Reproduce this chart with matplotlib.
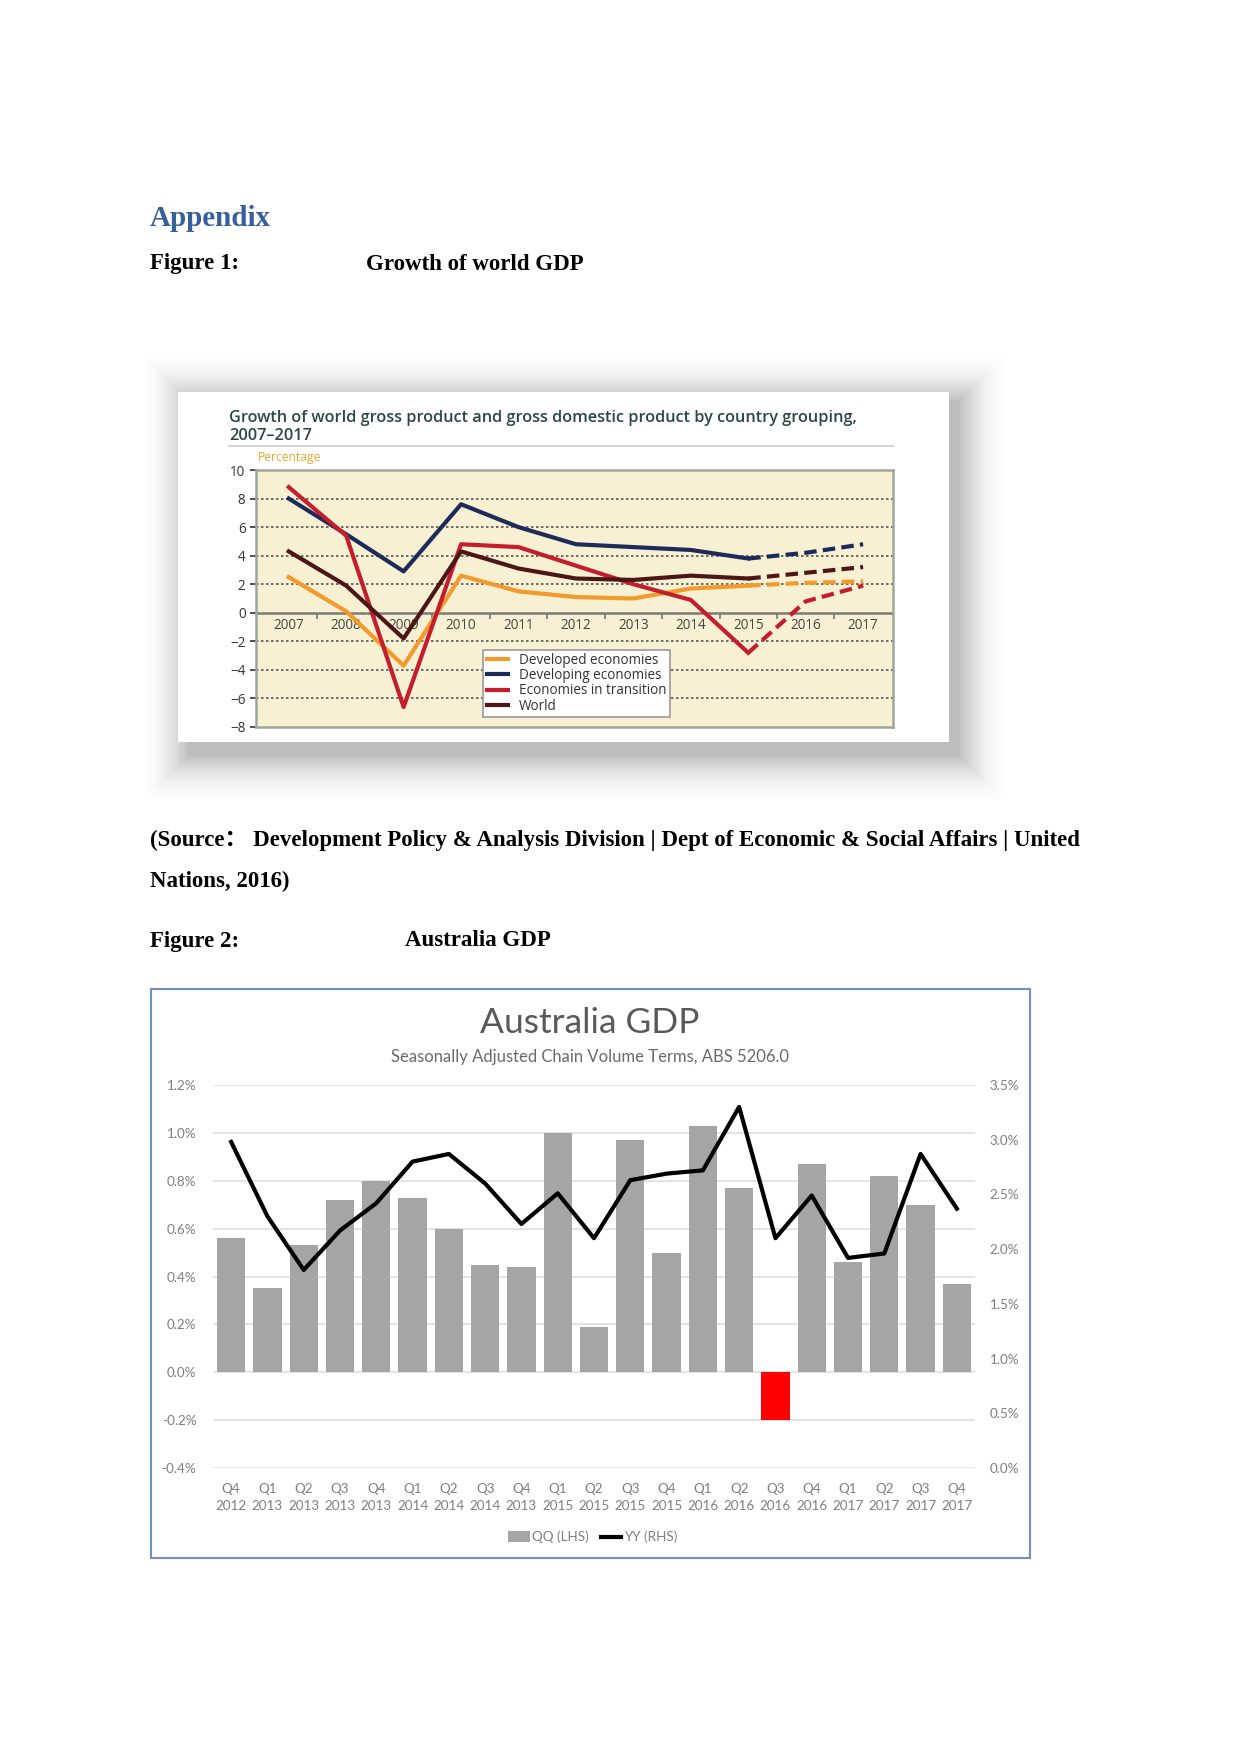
import numpy as np
import matplotlib
matplotlib.use("Agg")
import matplotlib.pyplot as plt
from matplotlib.patches import Rectangle, Patch
from matplotlib.lines import Line2D

# --- figure 1 data (growth of world gross product, %) ---
years = list(range(2007, 2018))
developed = [2.5, 0.1, -3.7, 2.6, 1.5, 1.1, 1.0, 1.7, 1.9, 2.1, 2.2]
developing = [8.0, 5.5, 2.9, 7.6, 6.0, 4.8, 4.6, 4.4, 3.8, 4.2, 4.8]
transition = [8.8, 5.4, -6.6, 4.8, 4.6, 3.3, 2.0, 0.9, -2.8, 0.8, 1.9]
world = [4.3, 1.9, -1.8, 4.3, 3.1, 2.4, 2.3, 2.6, 2.4, 2.8, 3.2]

# --- figure 2 data (Australia GDP) ---
quarters = ["Q4", "Q1", "Q2", "Q3", "Q4", "Q1", "Q2", "Q3", "Q4", "Q1", "Q2",
            "Q3", "Q4", "Q1", "Q2", "Q3", "Q4", "Q1", "Q2", "Q3", "Q4"]
q_years = ["2012", "2013", "2013", "2013", "2013", "2014", "2014", "2014", "2013",
           "2015", "2015", "2015", "2015", "2016", "2016", "2016", "2016",
           "2017", "2017", "2017", "2017"]
qq = [0.56, 0.35, 0.53, 0.72, 0.80, 0.73, 0.60, 0.45, 0.44, 1.00, 0.19,
      0.97, 0.50, 1.03, 0.77, -0.20, 0.87, 0.46, 0.82, 0.70, 0.37]
yy = [2.98, 2.30, 1.81, 2.17, 2.42, 2.80, 2.87, 2.60, 2.23, 2.51, 2.10,
      2.63, 2.69, 2.72, 3.30, 2.10, 2.49, 1.92, 1.96, 2.87, 2.37]

W, H = 1241, 1754


def fr(x0, y0, x1, y1):
    # pixel box (from top-left) -> figure fraction rect
    return [x0 / W, 1 - y1 / H, (x1 - x0) / W, (y1 - y0) / H]


def px(x, y):
    return x / W, 1 - y / H


def fig_rect(x0, y0, x1, y1, **kw):
    a, b = px(x0, y0)
    c, d = px(x1, y1)
    fig.patches.append(Rectangle((a, d), c - a, b - d, transform=fig.transFigure, **kw))


fig = plt.figure(figsize=(W / 150, H / 150), dpi=150)
fig.patch.set_facecolor("white")

serif = ["Liberation Serif", "Noto Sans CJK SC", "DejaVu Serif"]

# document text
fig.text(*px(150, 218), "Appendix", family=serif, weight="bold", fontsize=14,
         color="#36609a", va="center")
fig.text(*px(150, 264), "Figure 1:", family=serif, weight="bold", fontsize=11, va="center")
fig.text(*px(366, 264), "Growth of world GDP", family=serif, weight="bold", fontsize=11, va="center")
fig.text(*px(150, 840), "(Source\uff1a Development Policy & Analysis Division | Dept of Economic & Social Affairs | United",
         family=serif, weight="bold", fontsize=11, va="center")
fig.text(*px(150, 881), "Nations, 2016)", family=serif, weight="bold", fontsize=11, va="center")
fig.text(*px(150, 941), "Figure 2:", family=serif, weight="bold", fontsize=11, va="center")
fig.text(*px(405, 941), "Australia GDP", family=serif, weight="bold", fontsize=11, va="center")

# ---------------- figure 1 ----------------
# soft drop shadow (down-right) + white panel
n = 22
for i in range(n):
    g = 2.2 * i
    fig_rect(188 - g, 400 - g, 960 + g, 756 + g, facecolor="black", edgecolor="none",
             alpha=0.022 * (1 - i / n), zorder=-3)
fig_rect(178, 392, 949, 742, facecolor="white", edgecolor="none", zorder=-2)

f1 = ["Open Sans", "DejaVu Sans"]
fig.text(*px(229, 418), "Growth of world gross product and gross domestic product by country grouping,",
         family=f1, weight="semibold", fontsize=7.8, color="#2b4646", va="center")
fig.text(*px(229, 436), "2007\u20132017", family=f1, weight="semibold", fontsize=7.8,
         color="#2b4646", va="center")
fig.add_artist(Line2D([229 / W, 893 / W], [1 - 446 / H, 1 - 446 / H], color="#d5d5d5", lw=1))
fig.text(*px(258, 458), "Percentage", family=f1, fontsize=5.8, color="#e3a92c", va="center")

ax1 = fig.add_axes(fr(256, 470, 893, 727))
ax1.set_facecolor("#f8f0d2")
for s in ax1.spines.values():
    s.set_color("#9ea79c")
    s.set_linewidth(1.2)
ax1.set_xlim(2006.43, 2017.52)
ax1.set_ylim(-8, 10)
ax1.set_xticks([])
ax1.set_yticks(range(-8, 11, 2))
ax1.tick_params(axis="y", length=3, pad=2, labelsize=6.5, colors="#333333")
for lab in ax1.get_yticklabels():
    lab.set_family(f1)
for yv in range(-6, 9, 2):
    if yv != 0:
        ax1.axhline(yv, color="#555555", lw=0.8, dashes=(1.5, 1.5), zorder=1)
ax1.axhline(0, color="#7a7a7a", lw=1.2, zorder=1)
ax1.vlines(np.arange(2007.5, 2017, 1), -0.45, 0, color="#777777", lw=0.8, zorder=1)
for yr in years:
    ax1.text(yr, -0.35, str(yr), ha="center", va="top", fontsize=6.5,
             color="#444444", family=f1, zorder=2)

series = [("Developed economies", developed, "#f39a2c"),
          ("Developing economies", developing, "#1c2b5a"),
          ("Economies in transition", transition, "#c41e2e"),
          ("World", world, "#4d1616")]
handles = []
for name, vals, col in series:
    h, = ax1.plot(years[:9], vals[:9], color=col, lw=2, zorder=3, label=name)
    ax1.plot(years[8:], vals[8:], color=col, lw=2, ls=(0, (3, 1.5)), zorder=3)
    handles.append(h)
leg = ax1.legend(handles=handles, loc="lower left", bbox_to_anchor=(0.346, 0.012),
                 frameon=True, fancybox=False, edgecolor="#9a9a9a",
                 framealpha=1, borderpad=0.25, labelspacing=0.02, handlelength=1.6,
                 prop={"family": f1, "size": 6.5})
leg.get_frame().set_linewidth(0.8)
for t in leg.get_texts():
    t.set_color("#333333")

# ---------------- figure 2 ----------------
fig_rect(151, 989, 1030, 1558, facecolor="none", edgecolor="#6f8fc6", lw=1.0, zorder=5)

f2 = ["Lato", "DejaVu Sans"]
fig.text(*px(590, 1023), "Australia GDP", family=f2, fontsize=17, color="#595959",
         ha="center", va="center")
fig.text(*px(590, 1057), "Seasonally Adjusted Chain Volume Terms, ABS 5206.0", family=f2,
         fontsize=8, color="#6a6a6a", ha="center", va="center")

ax2 = fig.add_axes(fr(213, 1085, 975, 1468))
ax2.set_facecolor("none")
x = np.arange(len(qq))
ax2.bar(x, qq, width=0.78, color=["#a5a5a5" if v >= 0 else "#ff0000" for v in qq], zorder=2)
ax2.set_xlim(-0.5, len(qq) - 0.5)
ax2.set_ylim(-0.4, 1.2)
lticks = np.arange(-0.4, 1.21, 0.2)
ax2.set_yticks(lticks)
ax2.set_yticklabels([f"{abs(v):.1f}%" if abs(v) < 1e-9 else f"{v:.1f}%" for v in lticks])
ax2.set_xticks(x)
ax2.set_xticklabels([f"{q}\n{y}" for q, y in zip(quarters, q_years)])
ax2.grid(axis="y", color="#e2e2e2", lw=0.9, zorder=0)
ax2.set_axisbelow(True)
for s in ax2.spines.values():
    s.set_visible(False)
ax2.tick_params(axis="both", length=0, labelsize=6.5, labelcolor="#7f7f7f")
ax2.tick_params(axis="y", pad=8)
ax2.tick_params(axis="x", pad=7)
for lab in ax2.get_xticklabels() + ax2.get_yticklabels():
    lab.set_family(f2)
    lab.set_linespacing(1.5)

ax2r = ax2.twinx()
ax2r.plot(x, yy, color="black", lw=2, zorder=3)
ax2r.set_ylim(0, 3.5)
rticks = np.arange(0, 3.51, 0.5)
ax2r.set_yticks(rticks)
ax2r.set_yticklabels([f"{v:.1f}%" for v in rticks])
for s in ax2r.spines.values():
    s.set_visible(False)
ax2r.tick_params(axis="y", length=0, labelsize=6.5, labelcolor="#7f7f7f", pad=7)
for lab in ax2r.get_yticklabels():
    lab.set_family(f2)

fig.legend(handles=[Patch(color="#a5a5a5", label="QQ (LHS)"),
                    Line2D([], [], color="black", lw=2, label="YY (RHS)")],
           loc="center", bbox_to_anchor=px(593, 1537), ncol=2, frameon=False,
           handlelength=1.5, handletextpad=0.2, columnspacing=0.9,
           prop={"family": f2, "size": 6.5}, labelcolor="#7f7f7f")

fig.savefig("out.png", dpi=150)
